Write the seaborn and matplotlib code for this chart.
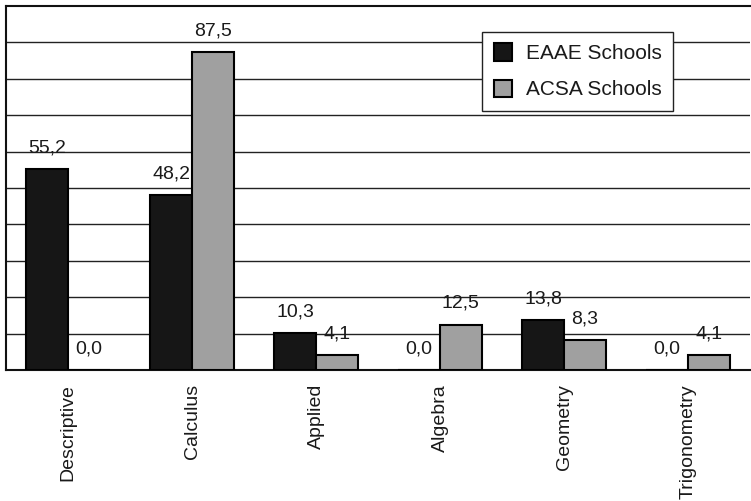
import pandas as pd
import numpy as np
import matplotlib
matplotlib.use("Agg")
import matplotlib.pyplot as plt
import seaborn as sns

topics = ["Descriptive", "Calculus", "Applied", "Algebra", "Geometry", "Trigonometry"]
eaae = [55.2, 48.2, 10.3, 0.0, 13.8, 0.0]
acsa = [0.0, 87.5, 4.1, 12.5, 8.3, 4.1]
series = ["EAAE Schools", "ACSA Schools"]
colors = ["#161616", "#a0a0a0"]

df = pd.DataFrame({
    "topic": topics * 2,
    "value": eaae + acsa,
    "school": [series[0]] * len(topics) + [series[1]] * len(topics),
})

sns.set_style("white")
plt.rcParams["font.family"] = ["Liberation Sans", "DejaVu Sans"]

fig = plt.figure(figsize=(7.51, 5.01), dpi=100)
ax = fig.add_axes([6 / 751, 1 - 370 / 501, 744 / 751, 364 / 501])

sns.barplot(data=df, x="topic", y="value", hue="school", palette=colors,
            width=0.675, edgecolor="black", linewidth=1.5, ax=ax, zorder=3)

for cont in ax.containers:
    vals = [r.get_height() for r in cont]
    ax.bar_label(cont, labels=[f"{v:.1f}".replace(".", ",") for v in vals],
                 padding=9, fontsize=14, color="#1a1a1a")

ax.set_ylim(0, 100)
ax.set_xlim(-0.5, len(topics) - 0.5)
ax.set_yticks(np.arange(10, 100, 10))
ax.set_yticklabels([])
ax.tick_params(axis="y", length=0)
ax.grid(axis="y", color="#222222", linewidth=1)
ax.set_axisbelow(True)

ax.set_xticks(range(len(topics)))
ax.set_xticklabels(topics, rotation=90, fontsize=14, color="#1a1a1a")
ax.set_xticks(np.arange(-0.5, len(topics), 1), minor=True)
ax.tick_params(axis="x", which="major", length=0, pad=10)
ax.tick_params(axis="x", which="minor", length=6, width=1, color="#444444", direction="out")
ax.set_xlabel("")
ax.set_ylabel("")

for s in ["left", "top", "bottom"]:
    ax.spines[s].set_color("#111111")
    ax.spines[s].set_linewidth(1.5)
ax.spines["right"].set_visible(False)

leg = ax.legend(title=None, loc="upper left", bbox_to_anchor=(0.64, 0.9286),
                borderaxespad=0, fontsize=15, frameon=True, fancybox=False,
                edgecolor="#222222", handlelength=0.9, handleheight=0.9,
                labelspacing=0.78, borderpad=0.55, handletextpad=0.65, framealpha=1)
leg.get_frame().set_linewidth(1)
for t in leg.get_texts():
    t.set_color("#1a1a1a")

fig.savefig("out.png", dpi=100)
